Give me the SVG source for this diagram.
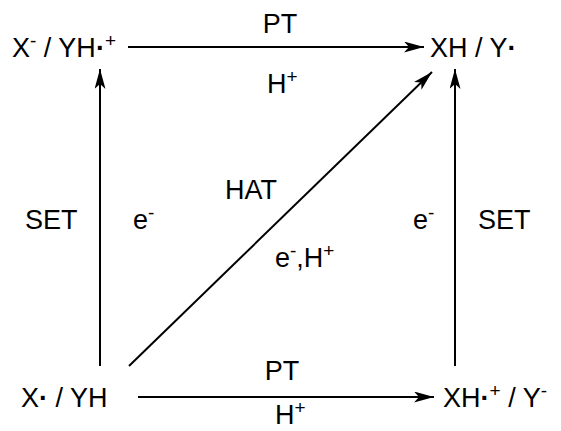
<svg xmlns="http://www.w3.org/2000/svg" width="561" height="431" viewBox="0 0 561 431">
<defs>
<style>
text{font-family:"Liberation Sans",Arial,sans-serif;font-size:27px;fill:#000}
.sup{font-size:19px}
.conn line{stroke:#000;stroke-width:2;fill:none;marker-end:url(#arr)}
</style>
<marker id="arr" markerUnits="userSpaceOnUse" markerWidth="22" markerHeight="12" refX="20" refY="5.5" orient="auto">
<path d="M0,0 L20,5.5 L0,11 L5,5.5 z" fill="#000"/>
</marker>
</defs>
<rect width="561" height="431" fill="#fff"/>
<g id="connectors" class="conn">
<line x1="128" y1="47" x2="424" y2="47"/>
<line x1="138" y1="397" x2="434" y2="397"/>
<line x1="100" y1="366" x2="100" y2="69"/>
<line x1="455" y1="366" x2="455" y2="69"/>
<line x1="129" y1="366" x2="432" y2="72"/>
</g>
<g id="n_tl"><text x="12" y="57">X<tspan class="sup" dy="-10">-</tspan><tspan dy="10"> / YH</tspan><tspan font-weight="bold">·</tspan><tspan class="sup" dy="-10">+</tspan></text></g>
<g id="n_tr"><text x="430" y="57">XH / Y<tspan font-weight="bold">·</tspan></text></g>
<g id="n_bl"><text x="21" y="407">X<tspan font-weight="bold">·</tspan> / YH</text></g>
<g id="n_br"><text x="443" y="407">XH<tspan font-weight="bold">·</tspan><tspan class="sup" dy="-10">+</tspan><tspan dy="10"> / Y</tspan><tspan class="sup" dy="-10">-</tspan></text></g>
<g id="labels">
<text x="280" y="33" text-anchor="middle">PT</text>
<text x="267" y="93">H<tspan class="sup" dy="-10">+</tspan></text>
<text x="282" y="380" text-anchor="middle">PT</text>
<text x="275" y="424">H<tspan class="sup" dy="-10">+</tspan></text>
<text x="25" y="229">SET</text>
<text x="133" y="229">e<tspan class="sup" dy="-10">-</tspan></text>
<text x="413" y="229">e<tspan class="sup" dy="-10">-</tspan></text>
<text x="478" y="229">SET</text>
<text x="225" y="199">HAT</text>
<text x="275" y="267">e<tspan class="sup" dy="-10">-</tspan><tspan dy="10">,H</tspan><tspan class="sup" dy="-10">+</tspan></text>
</g>
</svg>
